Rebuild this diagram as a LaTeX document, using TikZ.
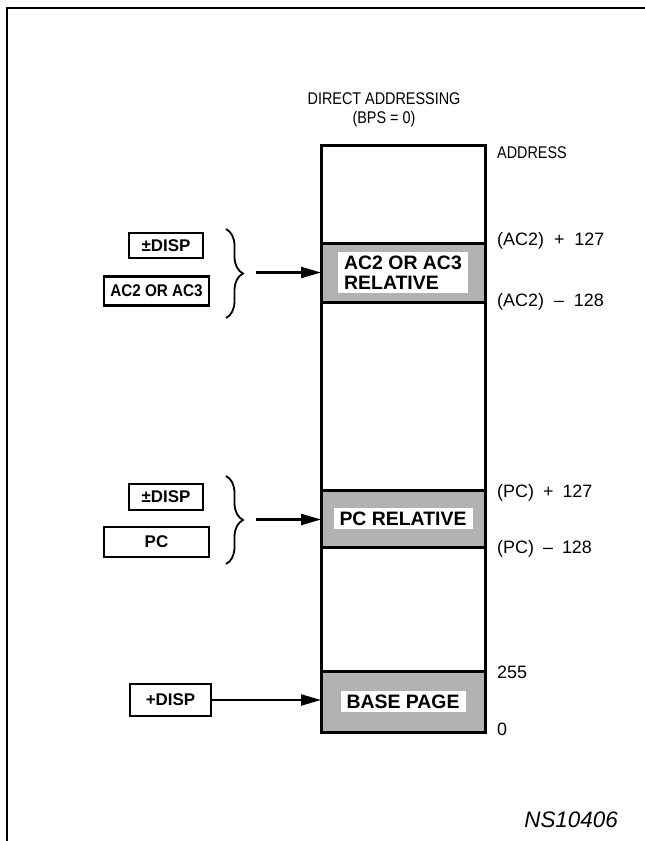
\documentclass[tikz,border=0pt]{standalone}
\usepackage{fontspec}
\setmainfont{Liberation Sans}
\newfontfamily\condfont[FakeStretch=0.85]{Liberation Sans}
\newfontfamily\condbold[FakeStretch=0.9]{Liberation Sans Bold}
\usetikzlibrary{arrows.meta,decorations.pathreplacing}
\begin{document}
\begin{tikzpicture}[x=1bp,y=-1bp,
  lbl/.style={font=\condfont\fontsize{17}{19}\selectfont,inner sep=0pt},
  addr/.style={font=\fontsize{18}{20}\selectfont,anchor=west,inner sep=0pt},
  regbox/.style={draw,line width=2.4bp,font=\bfseries\fontsize{17}{18}\selectfont,inner sep=0pt},
  bandtext/.style={fill=white,font=\bfseries\fontsize{19.5}{20}\selectfont,inner xsep=6bp,inner ysep=4bp,align=left},
  band/.style={fill=black!30,draw,line width=3bp},
  col/.style={draw,line width=3bp},
  brc/.style={decorate,decoration={brace,amplitude=17bp},line width=1.8bp},
  arr/.style={line width=2.2bp,-{Triangle[length=20bp,width=11bp]}}]
\useasboundingbox (0,0) rectangle (645,841);
\fill[white] (0,0) rectangle (645,841);
% frame
\draw[line width=2bp] (7,841) -- (7,8) -- (645,8);
% title
\node[lbl] (t1) at (384,99) {DIRECT ADDRESSING};
\node[lbl] (t2) at (384,119) {(BPS = 0)};
% memory column
\draw[col] (321,145) rectangle (485,732);
\draw[band] (321,243) rectangle (485,302);
\draw[band] (321,490) rectangle (485,547);
\draw[band] (321,671) rectangle (485,732);
\node[bandtext] (acrel) at (403,272.5) {AC2 OR AC3\\RELATIVE};
\node[bandtext] (pcrel) at (403,518.5) {PC RELATIVE};
\node[bandtext] (base) at (403,701.5) {BASE PAGE};
% address labels
\node[lbl,anchor=west] (a0) at (497,153) {ADDRESS};
\node[addr] (a1) at (497,241) {(AC2)\hspace{10bp}+\hspace{10bp}127};
\node[addr] (a2) at (497,302) {(AC2)\hspace{10bp}--\hspace{10bp}128};
\node[addr] (a3) at (497,493) {(PC)\hspace{9bp}+\hspace{9bp}127};
\node[addr] (a4) at (497,549) {(PC)\hspace{9bp}--\hspace{9bp}128};
\node[addr] (a5) at (497,672) {255};
\node[addr] (a6) at (497,729) {0};
% left group 1
\node[regbox,minimum width=74bp,minimum height=25bp] (d1) at (166,245.5) {±DISP};
\node[regbox,minimum width=105bp,minimum height=29bp,font=\condbold\fontsize{17}{18}\selectfont] (ac) at (156.5,291) {AC2 OR AC3};
\coordinate (b1t) at (226,229);
\coordinate (b1b) at (226,318);
\draw[brc] (b1t) -- (b1b);
\coordinate (a1s) at (256,272.5);
\draw[arr] (a1s) -- (321,272.5);
% left group 2
\node[regbox,minimum width=74bp,minimum height=26bp] (d2) at (166,497) {±DISP};
\node[regbox,minimum width=105bp,minimum height=30bp] (pc) at (156.5,542) {PC};
\coordinate (b2t) at (226,476);
\coordinate (b2b) at (226,564);
\draw[brc] (b2t) -- (b2b);
\coordinate (a2s) at (256,519.5);
\draw[arr] (a2s) -- (321,519.5);
% left group 3
\node[regbox,minimum width=81bp,minimum height=32bp] (d3) at (170.5,700) {+DISP};
\draw[arr] (d3.east) -- (321,700);
% figure number
\node[font=\itshape\fontsize{22.5}{24}\selectfont,anchor=east,inner sep=0pt] (ns) at (618,820) {NS10406};
\end{tikzpicture}
\end{document}
